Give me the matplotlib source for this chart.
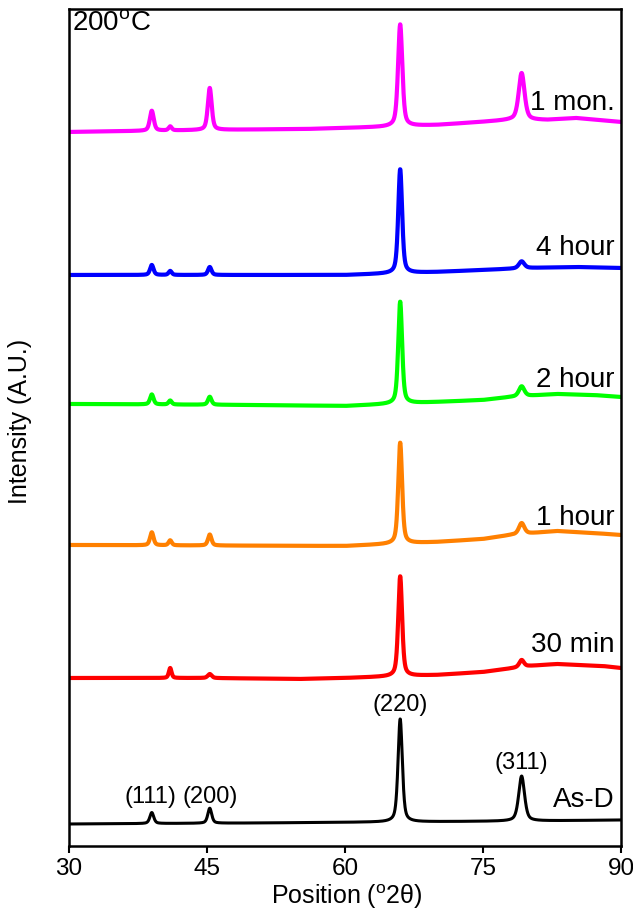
import numpy as np
import matplotlib
matplotlib.use("Agg")
import matplotlib.pyplot as plt

plt.rcParams['font.family'] = ['Liberation Sans', 'DejaVu Sans']
plt.rcParams['mathtext.fontset'] = 'custom'
plt.rcParams['mathtext.rm'] = 'Liberation Sans'

# series, bottom to top
labels = ["As-D", "30 min", "1 hour", "2 hour", "4 hour", "1 mon."]
colors = ["black", "#ff0000", "#ff8000", "#00ff00", "#0000ff", "#ff00ff"]
offsets = [22, 168, 301, 442, 571, 714]

# baseline knots (2theta, intensity relative to offset)
base_x = [
    [30, 50, 65, 80, 90],
    [30, 45, 55, 60, 70, 75, 80, 83, 88, 90],
    [30, 60, 70, 75, 78, 83, 87, 90],
    [30, 50, 60, 70, 75, 78, 83, 87, 90],
    [30, 60, 70, 75, 80, 85, 90],
    [30, 45, 56, 64, 70, 78, 82, 85, 90],
]
base_y = [
    [0, 1, 2, 3, 4],
    [0, 0, -1, 0, 3, 6, 12, 14, 12, 10],
    [0, -1, 3, 6, 10, 14, 12, 10],
    [0, -1, -2, 2, 4, 7, 10, 9, 7],
    [0, 0, 3, 5, 7, 8, 7],
    [0, 2, 3, 5, 7, 12, 12, 14, 10],
]

# peaks: position (2theta), height, fwhm
peak_pos = [
    [39.0, 45.3, 66.0, 79.2],
    [41.0, 45.3, 66.0, 79.2],
    [39.0, 41.0, 45.3, 66.0, 79.2],
    [39.0, 41.0, 45.3, 66.0, 79.2],
    [39.0, 41.0, 45.3, 66.0, 79.2],
    [39.0, 41.0, 45.3, 66.0, 79.2],
]
peak_h = [
    [11, 15, 103, 45],
    [10, 4, 100, 7],
    [13, 5, 11, 101, 11],
    [10, 4, 8, 102, 10],
    [10, 4, 8, 104, 7],
    [20, 4, 42, 102, 47],
]
peak_w = [
    [0.5, 0.5, 0.55, 0.75],
    [0.35, 0.5, 0.5, 0.6],
    [0.45, 0.4, 0.45, 0.5, 0.7],
    [0.45, 0.4, 0.45, 0.5, 0.7],
    [0.45, 0.4, 0.45, 0.5, 0.7],
    [0.5, 0.4, 0.5, 0.55, 0.75],
]

hkl = ["(111)", "(200)", "(220)", "(311)"]
hkl_x = [38.8, 45.3, 66.0, 79.2]
hkl_y = [49, 49, 141, 83]
label_y = [46, 201, 328, 466, 598, 743]


def pseudo_voigt(x, c, h, w, eta=0.5):
    g = np.exp(-4 * np.log(2) * (x - c) ** 2 / w ** 2)
    l = 1 / (1 + 4 * (x - c) ** 2 / w ** 2)
    return h * (eta * l + (1 - eta) * g)


x = np.linspace(30, 90, 3000)

fig = plt.figure(figsize=(6.33, 9.14), dpi=100)
ax = fig.add_axes([0.109, 0.0744, 0.872, 0.9158])

for i in range(len(labels)):
    y = np.interp(x, base_x[i], base_y[i]) + offsets[i]
    for c, h, w in zip(peak_pos[i], peak_h[i], peak_w[i]):
        y = y + pseudo_voigt(x, c, h, w)
    ax.plot(x, y, color=colors[i], lw=2.2 if i == 0 else 3.0)
    ax.text(89.3, label_y[i], labels[i], ha="right", va="center", fontsize=20)

for t, px, py in zip(hkl, hkl_x, hkl_y):
    ax.text(px, py, t, ha="center", va="center", fontsize=17)

ax.text(30.3, 822, "200$^{\\rm o}$C", ha="left", va="center", fontsize=20)

ax.set_xlim(30, 90)
ax.set_ylim(0, 837)
ax.set_xticks([30, 45, 60, 75, 90])
ax.set_yticks([])
ax.tick_params(axis="x", direction="out", length=5, width=1.5, labelsize=17.5, pad=4)
for s in ax.spines.values():
    s.set_linewidth(1.8)

fig.text(347 / 633, 1 - 897 / 914, "Position ($^{\\rm o}$2θ)", fontsize=18,
         ha="center", va="center")
fig.text(20 / 633, 1 - 421 / 914, "Intensity (A.U.)", fontsize=18,
         ha="center", va="center", rotation=90)

plt.savefig("out.png", dpi=100)
